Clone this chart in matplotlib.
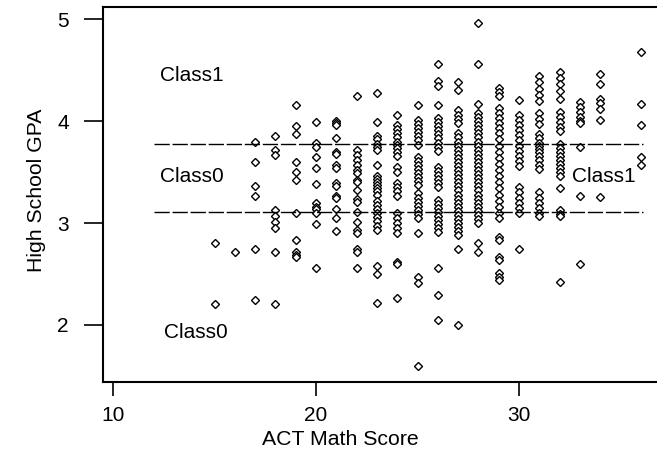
import matplotlib
matplotlib.use("Agg")
import matplotlib.pyplot as plt

# GPA values read per ACT math score column
gpa_by_act = {
    15: [2.80, 2.21],
    16: [2.72],
    17: [3.80, 3.60, 3.36, 3.27, 2.75, 2.24],
    18: [3.85, 3.72, 3.67, 3.13, 3.07, 3.01, 2.95, 2.72, 2.21],
    19: [4.16, 3.95, 3.87, 3.60, 3.50, 3.42, 3.10, 2.83, 2.72, 2.69, 2.67],
    20: [3.99, 3.79, 3.75, 3.65, 3.54, 3.38, 3.20, 3.16, 3.14, 3.10, 2.99, 2.56],
    21: [4.00, 3.98, 3.96, 3.83, 3.70, 3.68, 3.57, 3.54, 3.39, 3.36, 3.27, 3.25,
         3.14, 3.05, 2.92],
    22: [4.25, 3.72, 3.67, 3.62, 3.57, 3.52, 3.49, 3.42, 3.40, 3.32, 3.24, 3.21,
         3.11, 3.01, 2.93, 2.90, 2.75, 2.72, 2.56],
    23: [4.28, 3.99, 3.85, 3.82, 3.78, 3.75, 3.72, 3.57, 3.46, 3.43, 3.40, 3.37,
         3.34, 3.31, 3.28, 3.22, 3.18, 3.14, 3.10, 3.06, 3.02, 2.97, 2.93, 2.58,
         2.50, 2.22],
    24: [4.06, 3.96, 3.92, 3.88, 3.84, 3.80, 3.77, 3.74, 3.70, 3.66, 3.55, 3.50,
         3.39, 3.35, 3.31, 3.27, 3.10, 3.05, 3.00, 2.95, 2.90, 2.62, 2.60, 2.26],
    25: [4.16, 4.01, 3.97, 3.93, 3.89, 3.85, 3.81, 3.77, 3.65, 3.61, 3.57, 3.53,
         3.49, 3.45, 3.41, 3.37, 3.29, 3.25, 3.21, 3.17, 3.13, 3.09, 3.05, 2.90,
         2.47, 2.41, 1.60],
    26: [4.56, 4.39, 4.34, 4.16, 4.03, 3.99, 3.95, 3.91, 3.87, 3.83, 3.79, 3.75,
         3.71, 3.55, 3.51, 3.47, 3.43, 3.39, 3.35, 3.23, 3.19, 3.15, 3.11, 3.07,
         3.03, 2.99, 2.95, 2.91, 2.56, 2.29, 2.05],
    27: [4.38, 4.31, 4.11, 4.06, 4.02, 3.98, 3.88, 3.84, 3.80, 3.76, 3.72, 3.68,
         3.64, 3.60, 3.56, 3.52, 3.48, 3.44, 3.40, 3.36, 3.32, 3.28, 3.24, 3.20,
         3.16, 3.12, 3.08, 3.04, 3.00, 2.96, 2.92, 2.88, 2.75, 2.00],
    28: [4.96, 4.56, 4.17, 4.08, 4.04, 4.00, 3.96, 3.92, 3.88, 3.84, 3.80, 3.76,
         3.72, 3.68, 3.64, 3.60, 3.56, 3.52, 3.48, 3.44, 3.40, 3.36, 3.32, 3.28,
         3.24, 3.20, 3.16, 3.12, 3.08, 3.04, 3.00, 2.80, 2.72],
    29: [4.33, 4.29, 4.25, 4.13, 4.08, 4.03, 3.98, 3.93, 3.88, 3.82, 3.76, 3.70,
         3.64, 3.58, 3.52, 3.46, 3.40, 3.34, 3.28, 3.22, 3.16, 3.10, 3.05, 2.86,
         2.83, 2.67, 2.64, 2.51, 2.47, 2.44],
    30: [4.21, 4.06, 4.01, 3.96, 3.91, 3.86, 3.81, 3.76, 3.71, 3.66, 3.61, 3.56,
         3.35, 3.30, 3.25, 3.20, 3.15, 3.10, 2.75],
    31: [4.44, 4.38, 4.32, 4.26, 4.20, 4.08, 4.02, 3.97, 3.87, 3.83, 3.79, 3.76,
         3.73, 3.70, 3.66, 3.62, 3.57, 3.53, 3.30, 3.25, 3.20, 3.15, 3.10, 3.07],
    32: [4.48, 4.42, 4.36, 4.30, 4.22, 4.09, 4.04, 3.99, 3.94, 3.90, 3.78, 3.74,
         3.70, 3.66, 3.62, 3.58, 3.54, 3.50, 3.46, 3.34, 3.13, 3.09, 3.07, 2.42],
    33: [4.19, 4.14, 4.09, 4.04, 4.00, 3.98, 3.75, 3.27, 2.60],
    34: [4.46, 4.36, 4.22, 4.18, 4.12, 4.01, 3.26],
    36: [4.68, 4.17, 3.96, 3.65, 3.57],
}

cut_values = [3.78, 3.11]
class_labels = ["Class1", "Class0", "Class1", "Class0"]
label_pos = [(12.3, 4.45), (12.3, 3.46), (32.6, 3.46), (12.5, 1.93)]

act = []
gpa = []
for k, vals in gpa_by_act.items():
    for v in vals:
        act.append(k)
        gpa.append(v)

plt.rcParams['font.family'] = ['Liberation Sans', 'DejaVu Sans']

fig = plt.figure(figsize=(6.57, 4.67), dpi=100)
ax = fig.add_axes([103 / 657, 1 - 382 / 467, 558 / 657, 375 / 467])

ax.plot(act, gpa, linestyle='none', marker='D', ms=3.8, mfc='white',
        mec='black', mew=1.0)

for c in cut_values:
    ax.plot([12, 36.1], [c, c], color='black', lw=1.0, dashes=(11, 2))

for t, (x, y) in zip(class_labels, label_pos):
    ax.text(x, y, t, fontsize=15, va='center', ha='left')

ax.set_xlim(9.5, 37)
ax.set_ylim(1.44, 5.12)
ax.set_xticks([10, 20, 30])
ax.set_yticks([2, 3, 4, 5])
ax.tick_params(axis='x', direction='out', length=10, width=1.2,
               labelsize=15, pad=7)
ax.tick_params(axis='y', direction='out', length=14, width=1.2,
               labelsize=15, pad=10.5)
for s in ['left', 'bottom', 'top']:
    ax.spines[s].set_linewidth(1.5)
ax.spines['right'].set_visible(False)

ax.set_xlabel("ACT Math Score", fontsize=15.3)
ax.set_ylabel("High School GPA", fontsize=15.3)
ax.xaxis.set_label_coords(0.425, -0.129)
ax.yaxis.set_label_coords(-0.103, 0.51)

fig.savefig("out.png", dpi=100)
